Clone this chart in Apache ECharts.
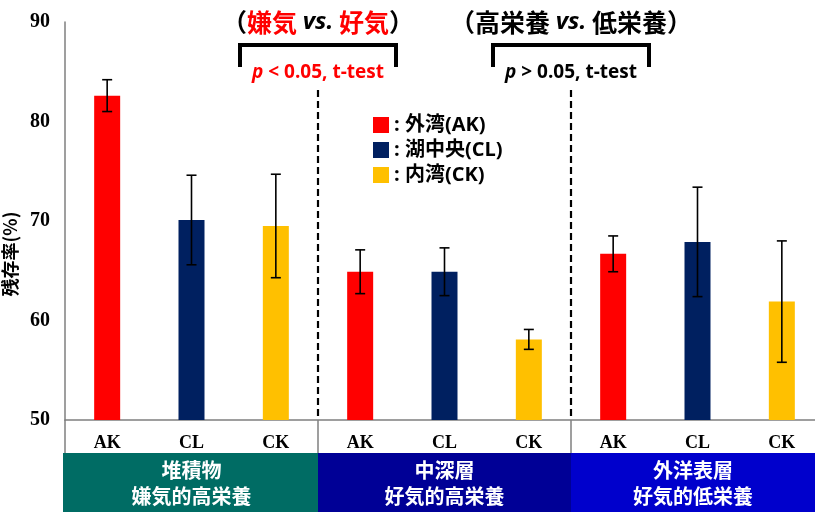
<!DOCTYPE html>
<html>
<head>
<meta charset="utf-8">
<script src="https://cdn.jsdelivr.net/npm/echarts@6/dist/echarts.min.js"></script>
<style>
  html, body { margin: 0; padding: 0; background: #fff; }
  #chart { width: 815px; height: 512px; }
</style>
</head>
<body>
<div id="chart"></div>
<script>
// data
const categories = ['AK', 'CL', 'CK', 'AK', 'CL', 'CK', 'AK', 'CL', 'CK'];
const siteNames = ['外湾(AK)', '湖中央(CL)', '内湾(CK)'];
const means = [82.6, 70.1, 69.5, 64.9, 64.9, 58.1, 66.7, 67.9, 61.9];
const errors = [1.6, 4.5, 5.2, 2.2, 2.4, 1.0, 1.8, 5.5, 6.1];
const yTicks = [50, 60, 70, 80, 90];
const groupRanges = [[0, 2], [3, 5], [6, 8]];
const groupLabels = [['堆積物', '嫌気的高栄養'], ['中深層', '好気的高栄養'], ['外洋表層', '好気的低栄養']];
// comparisons sit on the group boundaries (after category index)
const compareAfter = [2, 5];
const compareTitles = ['（{r|嫌気} {i|vs.} {r|好気}）', '（高栄養 {i|vs.} 低栄養）'];
const compareTests = ['{i|p} < 0.05, t-test', '{i|p} > 0.05, t-test'];

const siteColors = ['#ff0000', '#002060', '#ffc000'];
const groupColors = ['#006c64', '#000096', '#0000cc'];
const testColors = ['#ff0000', '#000000'];
const SERIF = '"Liberation Serif", "Times New Roman", serif';
const CJK = '"Noto Sans CJK JP", "Noto Sans", sans-serif';
const LATIN = '"Open Sans", "Noto Sans CJK JP", sans-serif';

const chart = echarts.init(document.getElementById('chart'));

const barSeries = siteNames.map((name, s) => ({
  name: name,
  type: 'bar',
  barWidth: 26,
  barGap: '-100%',
  itemStyle: { color: siteColors[s] },
  data: means.map((m, i) => (i % 3 === s ? m : '-'))
}));

function renderErr(params, api) {
  const x = api.value(0);
  const top = api.coord([x, api.value(2)]);
  const bot = api.coord([x, api.value(1)]);
  const cap = 5;
  const st = { stroke: '#000', lineWidth: 1.6 };
  return {
    type: 'group',
    children: [
      { type: 'line', shape: { x1: top[0], y1: top[1], x2: bot[0], y2: bot[1] }, style: st },
      { type: 'line', shape: { x1: top[0] - cap, y1: top[1], x2: top[0] + cap, y2: top[1] }, style: st },
      { type: 'line', shape: { x1: bot[0] - cap, y1: bot[1], x2: bot[0] + cap, y2: bot[1] }, style: st }
    ]
  };
}

function renderGroup(params, api) {
  const i = params.dataIndex;
  const band = api.size([1, 0])[0];
  const base = api.coord([api.value(0), yTicks[0]]);
  const x0 = base[0] - band / 2;
  const x1 = api.coord([api.value(1), yTicks[0]])[0] + band / 2;
  const axisY = base[1];
  const boxTop = axisY + 33;
  const H = api.getHeight();
  const children = [
    {
      type: 'rect',
      shape: { x: x0 - (i === 0 ? 2 : 0), y: boxTop, width: x1 - x0 + (i === 0 ? 2 : 0), height: H - boxTop },
      style: { fill: groupColors[i] }
    },
    {
      type: 'text',
      style: {
        x: (x0 + Math.min(x1, api.getWidth())) / 2,
        y: (boxTop + H) / 2 + 1,
        text: groupLabels[i].join('\n'),
        fill: '#fff',
        font: 'bold 20px ' + CJK,
        lineHeight: 26,
        align: 'center',
        verticalAlign: 'middle'
      }
    },
    {
      type: 'line',
      shape: { x1: x0, y1: axisY, x2: x0, y2: boxTop },
      style: { stroke: '#7f7f7f', lineWidth: 1.5 }
    }
  ];
  if (i > 0) {
    children.push({
      type: 'line',
      shape: { x1: x0, y1: 90, x2: x0, y2: axisY },
      style: { stroke: '#000', lineWidth: 2.2, lineDash: [7, 4] }
    });
  }
  return { type: 'group', children: children };
}

function renderCompare(params, api) {
  const i = params.dataIndex;
  const band = api.size([1, 0])[0];
  const cx = api.coord([api.value(0), yTicks[0]])[0] + band / 2;
  const half = 78;
  return {
    type: 'group',
    children: [
      {
        type: 'polyline',
        shape: { points: [[cx - half, 67], [cx - half, 45], [cx + half, 45], [cx + half, 67]] },
        style: { stroke: '#000', lineWidth: 4, fill: null, lineJoin: 'miter' }
      },
      {
        type: 'text',
        style: {
          x: cx, y: 22,
          text: compareTitles[i],
          align: 'center', verticalAlign: 'middle',
          font: 'bold 25px ' + CJK, fill: '#000',
          rich: {
            r: { fill: '#ff0000', font: 'bold 25px ' + CJK },
            i: { fill: '#000', font: 'italic bold 24px ' + LATIN }
          }
        }
      },
      {
        type: 'text',
        style: {
          x: cx, y: 73,
          text: compareTests[i],
          align: 'center', verticalAlign: 'middle',
          font: 'bold 19px ' + LATIN, fill: testColors[i],
          rich: {
            i: { fill: testColors[i], font: 'italic bold 19px ' + LATIN }
          }
        }
      }
    ]
  };
}

chart.setOption({
  animation: false,
  backgroundColor: '#fff',
  grid: { left: 65, right: -9, top: 22, bottom: 92, outerBoundsMode: 'none' },
  legend: {
    orient: 'vertical',
    left: 368,
    top: 110,
    icon: 'rect',
    itemWidth: 16,
    itemHeight: 16,
    itemGap: 5,
    data: siteNames,
    formatter: ': {name}',
    textStyle: { fontSize: 20, fontWeight: 'bold', color: '#000', fontFamily: LATIN }
  },
  xAxis: {
    type: 'category',
    data: categories,
    axisLine: { lineStyle: { color: '#7f7f7f', width: 1.5 } },
    axisTick: { show: false },
    axisLabel: { margin: 14, fontSize: 18, fontWeight: 'bold', color: '#000', fontFamily: SERIF, interval: 0 }
  },
  yAxis: {
    type: 'value',
    min: yTicks[0],
    max: yTicks[yTicks.length - 1],
    interval: 10,
    name: '残存率(%)',
    nameLocation: 'middle',
    nameRotate: 90,
    nameGap: 36,
    nameTextStyle: { fontSize: 18, fontWeight: 'bold', color: '#000', fontFamily: CJK, padding: [0, 66, 0, 0] },
    axisLine: { show: true, lineStyle: { color: '#7f7f7f', width: 1.5 } },
    axisTick: { show: false },
    splitLine: { show: false },
    axisLabel: { margin: 15, fontSize: 20, fontWeight: 'bold', color: '#000', fontFamily: SERIF }
  },
  series: barSeries.concat([
    {
      type: 'custom',
      name: 'err',
      renderItem: renderErr,
      encode: { x: 0, y: [1, 2] },
      z: 5,
      data: means.map((m, i) => [i, m - errors[i], m + errors[i]])
    },
    {
      type: 'custom',
      name: 'groups',
      renderItem: renderGroup,
      clip: false,
      encode: { x: [0, 1] },
      data: groupRanges
    },
    {
      type: 'custom',
      name: 'compare',
      renderItem: renderCompare,
      clip: false,
      encode: { x: 0 },
      data: compareAfter.map(c => [c])
    }
  ])
});
</script>
</body>
</html>
